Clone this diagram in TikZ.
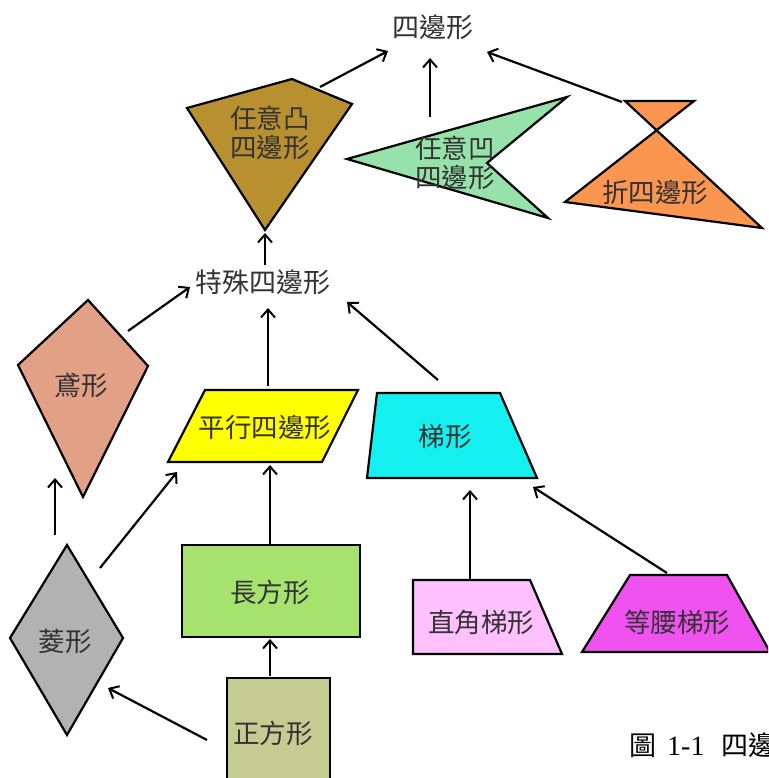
\documentclass[tikz,border=0pt]{standalone}
\usepackage{fontspec}
\newfontfamily\cjk{Noto Sans CJK TC}
\newfontfamily\capserif{Liberation Serif}
\usetikzlibrary{arrows.meta}
\definecolor{cvx}{RGB}{184,144,48}
\definecolor{ccv}{RGB}{150,226,170}
\definecolor{bow}{RGB}{250,150,80}
\definecolor{kitec}{RGB}{226,160,135}
\definecolor{parc}{RGB}{255,255,0}
\definecolor{trapc}{RGB}{20,240,240}
\definecolor{rhoc}{RGB}{178,178,178}
\definecolor{rectc}{RGB}{165,226,110}
\definecolor{sqc}{RGB}{197,204,145}
\definecolor{rtc}{RGB}{255,192,255}
\definecolor{isoc}{RGB}{240,82,240}
\begin{document}
\begin{tikzpicture}[x=1pt,y=-1pt,
  shp/.style={draw=black,line width=2.2pt,line join=miter},
  lbl/.style={font=\cjk\fontsize{26.5}{29}\selectfont,text=black!80,align=center,inner sep=0pt},
  arr/.style={-{Straight Barb[length=8pt,width=14pt,line width=2pt]},line width=2.2pt}]
\useasboundingbox (0,0) rectangle (768,778);
\clip (0,0) rectangle (768,778);
\fill[white] (0,0) rectangle (768,778);
% convex quadrilateral
\coordinate (cv1) at (187,108);\coordinate (cv2) at (292,79);
\coordinate (cv3) at (352,104);\coordinate (cv4) at (265,230);
\filldraw[shp,fill=cvx] (cv1)--(cv2)--(cv3)--(cv4)--cycle;
\node[lbl] (convex) at (270,133) {任意凸\\四邊形};
% concave quadrilateral
\coordinate (cc1) at (347,159);\coordinate (cc2) at (567,97);
\coordinate (cc3) at (487,163);\coordinate (cc4) at (548,218);
\filldraw[shp,fill=ccv] (cc1)--(cc2)--(cc3)--(cc4)--cycle;
\node[lbl] (concave) at (455,163) {任意凹\\四邊形};
% crossed quadrilateral
\coordinate (bw1) at (625,101);\coordinate (bw2) at (694,101);
\coordinate (bw3) at (565,202);\coordinate (bw4) at (762,228);
\filldraw[shp,fill=bow] (bw1)--(bw2)--(bw3)--(bw4)--cycle;
\node[lbl] (crossed) at (655,192) {折四邊形};
% kite
\coordinate (k1) at (88,300);\coordinate (k2) at (148,366);
\coordinate (k3) at (83,497);\coordinate (k4) at (18,365);
\filldraw[shp,fill=kitec] (k1)--(k2)--(k3)--(k4)--cycle;
\node[lbl] (kite) at (81,385) {鳶形};
% parallelogram
\coordinate (p1) at (205,390);\coordinate (p2) at (358,390);
\coordinate (p3) at (322,462);\coordinate (p4) at (168,462);
\filldraw[shp,fill=parc] (p1)--(p2)--(p3)--(p4)--cycle;
\node[lbl] (para) at (265,427) {平行四邊形};
% trapezoid
\coordinate (t1) at (377,393);\coordinate (t2) at (500,393);
\coordinate (t3) at (537,478);\coordinate (t4) at (367,478);
\filldraw[shp,fill=trapc] (t1)--(t2)--(t3)--(t4)--cycle;
\node[lbl] (trap) at (445,437) {梯形};
% rhombus
\coordinate (r1) at (67,545);\coordinate (r2) at (123,638);
\coordinate (r3) at (67,735);\coordinate (r4) at (10,638);
\filldraw[shp,fill=rhoc] (r1)--(r2)--(r3)--(r4)--cycle;
\node[lbl] (rhombus) at (65,641) {菱形};
% rectangle
\filldraw[shp,fill=rectc] (182,545) rectangle (360,637);
\node[lbl] (rect) at (270,592) {長方形};
% square
\filldraw[shp,fill=sqc] (227,678) rectangle (330,800);
\node[lbl] (square) at (273,733) {正方形};
% right trapezoid
\coordinate (rt1) at (413,580);\coordinate (rt2) at (530,580);
\coordinate (rt3) at (562,654);\coordinate (rt4) at (413,654);
\filldraw[shp,fill=rtc] (rt1)--(rt2)--(rt3)--(rt4)--cycle;
\node[lbl] (rtrap) at (481,622) {直角梯形};
% isosceles trapezoid
\coordinate (it1) at (630,575);\coordinate (it2) at (727,575);
\coordinate (it3) at (770,652);\coordinate (it4) at (582,652);
\filldraw[shp,fill=isoc] (it1)--(it2)--(it3)--(it4)--cycle;
\node[lbl] (itrap) at (677,622) {等腰梯形};
% top labels
\node[lbl,font=\cjk\fontsize{27}{29}\selectfont] (quad) at (433,27) {四邊形};
\node[lbl,font=\cjk\fontsize{27}{29}\selectfont] (special) at (263,282) {特殊四邊形};
% caption
\node[lbl,anchor=west,text=black,font=\cjk\fontsize{27}{29}\selectfont] (caption) at (629,745) {圖\hspace{11pt}{\capserif\fontsize{28}{29}\selectfont 1-1}\hspace{17pt}四邊};
% arrow end points
\coordinate (a1s) at (320,87);  \coordinate (a1e) at (388,51);
\coordinate (a2s) at (430,117); \coordinate (a2e) at (430,58);
\coordinate (a3s) at (622,102); \coordinate (a3e) at (487,52);
\coordinate (a4s) at (265,265); \coordinate (a4e) at (265,233);
\coordinate (a5s) at (128,331); \coordinate (a5e) at (190,287);
\coordinate (a6s) at (268,386); \coordinate (a6e) at (268,308);
\coordinate (a7s) at (438,380); \coordinate (a7e) at (347,302);
\coordinate (a8s) at (55,535);  \coordinate (a8e) at (55,478);
\coordinate (a9s) at (100,568); \coordinate (a9e) at (177,472);
\coordinate (a10s) at (270,545); \coordinate (a10e) at (270,465);
\coordinate (a11s) at (270,676); \coordinate (a11e) at (270,639);
\coordinate (a12s) at (207,740); \coordinate (a12e) at (108,688);
\coordinate (a13s) at (470,580); \coordinate (a13e) at (470,490);
\coordinate (a14s) at (667,573); \coordinate (a14e) at (533,487);
\foreach \i in {1,...,14} {\draw[arr] (a\i s) -- (a\i e);}
\end{tikzpicture}
\end{document}
